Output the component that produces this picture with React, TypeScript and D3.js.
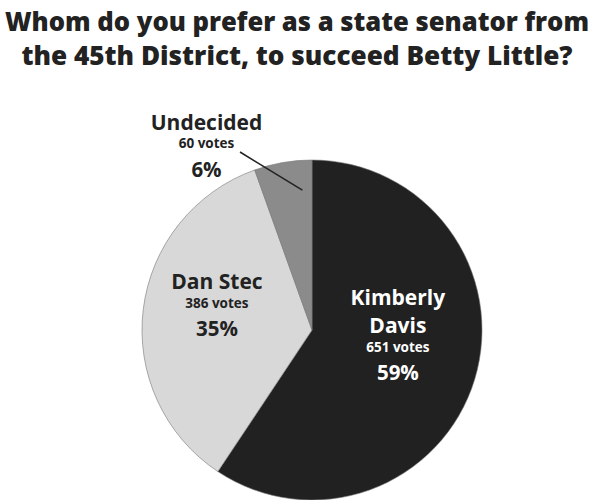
import React from "react";
import * as d3 from "d3";

const candidates = ["Kimberly Davis", "Dan Stec", "Undecided"];
const nameLines = [["Kimberly", "Davis"], ["Dan Stec"], ["Undecided"]];
const votes = [651, 386, 60];
const percents = ["59%", "35%", "6%"];
const colors = ["#212121", "#d8d8d8", "#8b8b8b"];
const textColors = ["#ffffff", "#222222", "#222222"];
const titleLines = [
  "Whom do you prefer as a state senator from",
  "the 45th District, to succeed Betty Little?",
];

const W = 596;
const H = 500;
const cx = 312;
const cy = 330;
const R = 170;

// label placement: polar (angle in degrees from 12 o'clock, radius) for block anchor
const labelPolar = [
  { a: 93, r: 86, top: 305 - 330 },
  { a: 284, r: 98, top: 289 - 330 },
  { a: 330, r: 211, top: 130 - 330 },
];

export default function App() {
  const pie = d3
    .pie<number>()
    .sort(null)
    .value((d) => d)
    .startAngle(0)
    .endAngle(2 * Math.PI);
  const arcs = pie(votes);
  const arc = d3.arc<d3.PieArcDatum<number>>().innerRadius(0).outerRadius(R);

  const font = "'Open Sans', 'Noto Sans', sans-serif";

  const u = arcs[2];
  const leadAng = u.startAngle + 0.8 * (u.endAngle - u.startAngle);
  const leadR = R * 0.825;
  const lx2 = cx + leadR * Math.sin(leadAng);
  const ly2 = cy - leadR * Math.cos(leadAng);

  return (
    <svg width={W} height={H} style={{ position: "absolute", left: 0, top: 0, background: "#fff" }}>
      <rect width={W} height={H} fill="#fff" />
      <text
        x={W / 2 - 1}
        y={31}
        textAnchor="middle"
        fontFamily={font}
        fontWeight={800}
        fontSize={27}
        fill="#222"
        textLength={584}
        lengthAdjust="spacingAndGlyphs"
      >
        {titleLines[0]}
      </text>
      <text
        x={297}
        y={65}
        textAnchor="middle"
        fontFamily={font}
        fontWeight={800}
        fontSize={27}
        fill="#222"
        textLength={551}
        lengthAdjust="spacingAndGlyphs"
      >
        {titleLines[1]}
      </text>
      <g transform={`translate(${cx},${cy})`}>
        {arcs.map((a, i) => (
          <path key={candidates[i]} d={arc(a) || ""} fill={colors[i]} stroke="#777" strokeWidth={0.6} />
        ))}
      </g>
      <line x1={240} y1={152} x2={lx2} y2={ly2} stroke="#222" strokeWidth={1.5} />
      {labelPolar.map((lp, i) => {
        const rad = (lp.a * Math.PI) / 180;
        const x = cx + lp.r * Math.sin(rad);
        const y0 = cy + lp.top;
        const names = nameLines[i];
        const lines: { t: string; size: number; dy: number }[] = [];
        let y = y0;
        names.forEach((n, k) => {
          if (k > 0) y += 28;
          lines.push({ t: n, size: 21, dy: y });
        });
        y += i === 2 ? 18 : 19;
        lines.push({ t: `${votes[i]} votes`, size: 13.5, dy: y });
        y += i === 2 ? 29 : 28;
        lines.push({ t: percents[i], size: 20.5, dy: y });
        return (
          <g key={candidates[i]}>
            {lines.map((l, k) => (
              <text
                key={k}
                x={x}
                y={l.dy}
                textAnchor="middle"
                fontFamily={font}
                fontWeight={700}
                fontSize={l.size}
                fill={textColors[i]}
              >
                {l.t}
              </text>
            ))}
          </g>
        );
      })}
    </svg>
  );
}
